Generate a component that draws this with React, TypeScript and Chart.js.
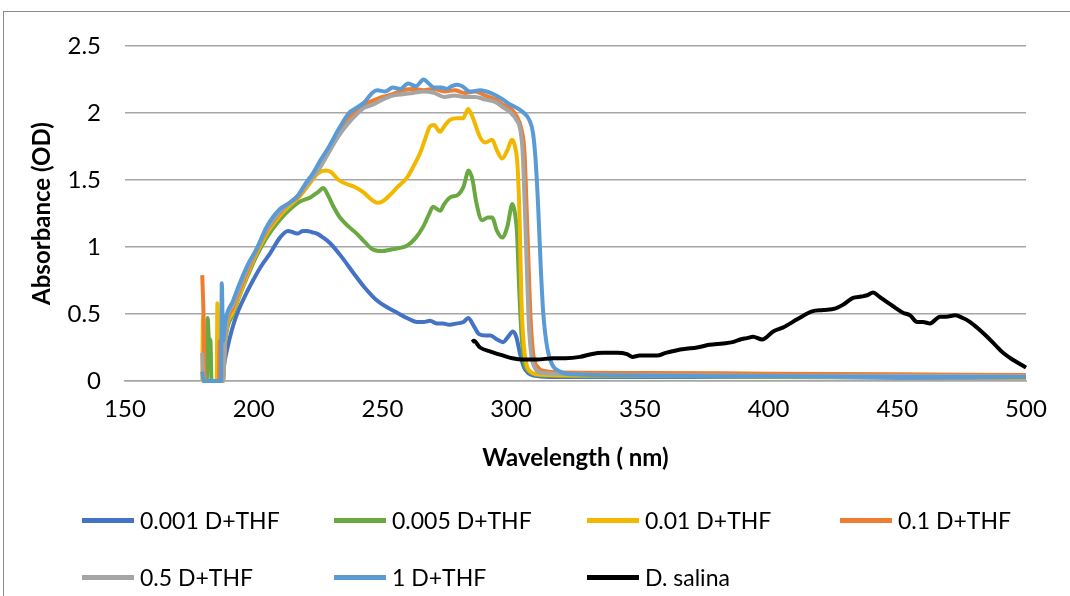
import React, { useEffect, useRef } from "react";
import { Chart, registerables } from "chart.js";

Chart.register(...registerables);

const FONT = "Lato, 'Open Sans', sans-serif";

// Series names and colours
const seriesNames = ["0.001 D+THF", "0.005 D+THF", "0.01 D+THF", "0.1 D+THF", "0.5 D+THF", "1 D+THF", "D. salina"];
const seriesColors = ["#4472C4", "#6AA842", "#F2B800", "#ED7D31", "#A5A5A5", "#5B9BD5", "#000000"];

// Axis ticks
const xTicks = [150, 200, 250, 300, 350, 400, 450, 500];
const yTicks = [0, 0.5, 1, 1.5, 2, 2.5];

// [wavelength nm, absorbance OD]
const s0001: [number, number][] = [
  [180, 0.07], [180.6, 0.05], [181, 0], [187.8, 0], [188.5, 0.12], [189.6, 0.23], [191.5, 0.38], [193.5, 0.5],
  [196.5, 0.63], [199.7, 0.75], [203, 0.86], [206.3, 0.95], [210.2, 1.07], [213.3, 1.12], [215.2, 1.11],
  [217.2, 1.1], [219, 1.12], [220.7, 1.12], [222.6, 1.11], [224.6, 1.1], [227, 1.07], [229.6, 1.03],
  [234, 0.93], [238.6, 0.81], [243, 0.7], [247.9, 0.6], [251.8, 0.55], [255.7, 0.51], [259.5, 0.47],
  [263.4, 0.44], [266, 0.44], [268.5, 0.45], [271, 0.43], [273.5, 0.43], [276, 0.42], [279, 0.43],
  [281.5, 0.44], [283.3, 0.47], [285.5, 0.41], [287.5, 0.35], [290, 0.34], [292, 0.34], [294.5, 0.31],
  [296.9, 0.29], [298.8, 0.33], [300.7, 0.37], [302, 0.33], [303.5, 0.2], [305, 0.1], [306.6, 0.06],
  [309, 0.04], [315, 0.03], [350, 0.03], [400, 0.03], [450, 0.025], [500, 0.025],
];

const s0005: [number, number][] = [
  [180, 0], [181.8, 0], [182.1, 0.47], [182.6, 0.32], [183.2, 0.3], [183.6, 0], [188, 0], [189, 0.3],
  [192, 0.5], [195, 0.66], [198, 0.8], [201, 0.93], [205, 1.07], [210, 1.2], [214, 1.28], [218, 1.34],
  [222, 1.37], [225, 1.41], [227, 1.44], [229, 1.38], [231, 1.3], [233.5, 1.22], [237, 1.15], [240, 1.1],
  [243, 1.04], [246.4, 0.98], [250, 0.97], [253, 0.98], [256, 0.99], [259.6, 1.01], [263, 1.07],
  [265.8, 1.15], [268, 1.24], [269.7, 1.3], [272.4, 1.27], [274, 1.32], [276.3, 1.37], [279.4, 1.39],
  [281.5, 1.45], [283.5, 1.57], [285, 1.5], [286.5, 1.33], [288.7, 1.2], [291, 1.22], [292.6, 1.22],
  [294.5, 1.12], [296.5, 1.07], [298.5, 1.15], [300.5, 1.32], [301.5, 1.25], [302.3, 1.1], [303.1, 0.7],
  [304, 0.35], [305, 0.15], [306.5, 0.08], [309, 0.05], [315, 0.04], [350, 0.035], [400, 0.03],
  [450, 0.03], [500, 0.03],
];

const s001: [number, number][] = [
  [180, 0], [180.3, 0.48], [180.8, 0], [185.6, 0], [185.9, 0.58], [186.3, 0], [188, 0], [189, 0.32],
  [192, 0.52], [195, 0.67], [198, 0.82], [201, 0.95], [205, 1.1], [210, 1.23], [214, 1.31], [218, 1.38],
  [222, 1.48], [225, 1.55], [228, 1.57], [230, 1.56], [233, 1.5], [236, 1.47], [239, 1.45], [242.5, 1.41],
  [246, 1.35], [248, 1.33], [250, 1.34], [253, 1.39], [256, 1.45], [259.6, 1.52], [262, 1.6], [264.6, 1.7],
  [266.5, 1.8], [268.5, 1.9], [270, 1.91], [272.4, 1.86], [274, 1.9], [276.3, 1.95], [279, 1.96],
  [281.3, 1.96], [283.3, 2.03], [285, 1.97], [287.9, 1.82], [290, 1.78], [292.6, 1.8], [294.5, 1.72],
  [296.5, 1.66], [298.5, 1.72], [300.3, 1.8], [301.5, 1.75], [302.5, 1.6], [303.3, 1.2], [304, 0.6],
  [305, 0.25], [306, 0.12], [307.5, 0.07], [310, 0.05], [315, 0.045], [350, 0.04], [400, 0.035],
  [450, 0.03], [500, 0.025],
];

const s01: [number, number][] = [
  [180, 0.79], [180.5, 0.5], [181, 0], [186.5, 0], [186.8, 0.3], [187.1, 0], [188, 0], [189, 0.35],
  [192, 0.55], [195, 0.7], [198, 0.84], [201, 0.97], [205, 1.12], [210, 1.25], [214, 1.33], [217, 1.37],
  [220, 1.45], [223, 1.53], [226, 1.62], [229, 1.72], [233, 1.85], [237, 1.96], [240, 2.02], [243, 2.06],
  [246, 2.09], [250, 2.12], [254, 2.14], [258, 2.17], [262, 2.18], [266, 2.17], [270, 2.18], [274, 2.16],
  [278, 2.17], [282, 2.15], [286, 2.16], [290, 2.13], [294, 2.1], [297, 2.06], [300, 2.03], [302, 1.98],
  [304, 1.88], [305.2, 1.7], [306, 1.3], [306.8, 0.85], [307.6, 0.45], [308.6, 0.2], [310.5, 0.1],
  [313, 0.075], [318, 0.065], [350, 0.06], [400, 0.055], [450, 0.05], [500, 0.045],
];

const s05: [number, number][] = [
  [180, 0.21], [180.6, 0], [188, 0], [189, 0.37], [192, 0.57], [195, 0.72], [198, 0.86], [201, 0.98],
  [205, 1.13], [210, 1.26], [214, 1.33], [217, 1.38], [220, 1.45], [223, 1.52], [226, 1.6], [229, 1.7],
  [233, 1.83], [237, 1.93], [240, 1.99], [243, 2.04], [246, 2.06], [250, 2.1], [254, 2.13], [258, 2.14],
  [262, 2.15], [266, 2.16], [270, 2.15], [274, 2.12], [278, 2.13], [282, 2.12], [286, 2.12], [290, 2.1],
  [294, 2.08], [297, 2.04], [300, 2.0], [302, 1.95], [303.5, 1.88], [304.5, 1.7], [305.3, 1.3],
  [306, 0.9], [306.8, 0.45], [307.8, 0.2], [309.5, 0.09], [312, 0.06], [350, 0.045], [400, 0.04],
  [450, 0.04], [500, 0.035],
];

const s1: [number, number][] = [
  [180, 0.07], [180.6, 0], [187.3, 0], [187.6, 0.73], [188.1, 0.3], [189, 0.45], [192, 0.6], [195, 0.75],
  [198, 0.88], [201, 0.98], [205, 1.15], [210, 1.28], [214, 1.33], [217, 1.38], [220, 1.47], [223, 1.55],
  [226, 1.65], [229, 1.74], [233, 1.88], [237, 2.0], [240, 2.04], [243, 2.08], [246, 2.15], [248, 2.17],
  [251, 2.16], [254, 2.19], [257, 2.18], [260, 2.22], [263, 2.2], [266, 2.25], [268, 2.22], [270, 2.19],
  [273, 2.19], [275, 2.18], [277, 2.2], [279, 2.21], [281, 2.2], [284, 2.16], [288, 2.17], [292, 2.15],
  [296, 2.11], [299, 2.07], [302, 2.04], [305, 2.0], [307, 1.95], [308.5, 1.85], [309.5, 1.65],
  [310.5, 1.3], [311.5, 0.85], [312.5, 0.5], [314, 0.25], [316, 0.12], [319, 0.07], [325, 0.05],
  [350, 0.04], [400, 0.035], [450, 0.03], [500, 0.03],
];

const sSalina: [number, number][] = [
  [284.8, 0.29], [285.5, 0.3], [287.9, 0.25], [292, 0.22], [296.9, 0.19], [300.5, 0.17], [304.6, 0.16],
  [310, 0.16], [316.3, 0.17], [321, 0.17], [326.8, 0.18], [331, 0.2], [335.7, 0.21], [341, 0.21],
  [345, 0.2], [347, 0.18], [350, 0.19], [353, 0.19], [356.7, 0.19], [360, 0.21], [364.5, 0.23],
  [368, 0.24], [372.2, 0.25], [377, 0.27], [382.3, 0.28], [386, 0.29], [389, 0.31], [391.6, 0.32],
  [394, 0.33], [397.5, 0.31], [401.8, 0.37], [405.7, 0.4], [411.1, 0.46], [416.9, 0.52], [421.2, 0.53],
  [425.8, 0.54], [429, 0.57], [432.8, 0.62], [436, 0.63], [438.3, 0.64], [440.6, 0.66], [443, 0.63],
  [445.9, 0.59], [449, 0.55], [452.2, 0.51], [455, 0.49], [457.7, 0.44], [460, 0.44], [462.7, 0.43],
  [466.6, 0.48], [469, 0.48], [472.5, 0.49], [475.5, 0.47], [478.3, 0.44], [481.5, 0.39], [484.9, 0.33],
  [488, 0.27], [491.1, 0.21], [494, 0.17], [496.5, 0.14], [500, 0.1],
];

const allSeries = [s0001, s0005, s001, s01, s05, s1, sSalina];

export default function App() {
  const ref = useRef<HTMLCanvasElement | null>(null);

  useEffect(() => {
    if (!ref.current) return;
    const n = allSeries.length;
    const chart = new Chart(ref.current, {
      type: "line",
      data: {
        datasets: allSeries.map((s, i) => ({
          label: seriesNames[i],
          data: s.map(([x, y]) => ({ x, y })),
          borderColor: seriesColors[i],
          backgroundColor: seriesColors[i],
          borderWidth: 4,
          pointRadius: 0,
          cubicInterpolationMode: "monotone" as const,
          fill: false,
          clip: false as any,
          order: n - i,
        })),
      },
      options: {
        animation: false,
        responsive: false,
        devicePixelRatio: 1,
        layout: { padding: { left: 28, top: 46, right: 44, bottom: 123 } },
        plugins: { legend: { display: false }, tooltip: { enabled: false } },
        scales: {
          x: {
            type: "linear",
            min: 150,
            max: 500,
            afterBuildTicks: (s: any) => {
              s.ticks = xTicks.map((v) => ({ value: v }));
            },
            afterFit: (s: any) => {
              s.height = 92;
            },
            grid: { display: false, drawTicks: false },
            border: { display: true, color: "#a6a6a6", width: 1.5 },
            ticks: {
              color: "#000",
              font: { family: FONT, size: 24 },
              padding: 14,
              maxRotation: 0,
              callback: (v: any) => String(v),
            },
            title: {
              display: true,
              text: "Wavelength ( nm)",
              color: "#000",
              font: { family: FONT, size: 24, weight: "bold" },
              padding: 0,
            },
          },
          y: {
            type: "linear",
            min: 0,
            max: 2.5,
            afterBuildTicks: (s: any) => {
              s.ticks = yTicks.map((v) => ({ value: v }));
            },
            afterFit: (s: any) => {
              s.width = 97;
            },
            grid: { color: "#a6a6a6", lineWidth: 1.5, drawTicks: false },
            border: { display: false },
            ticks: {
              color: "#000",
              font: { family: FONT, size: 24 },
              padding: 24,
              callback: (v: any) => String(v),
            },
            title: {
              display: true,
              text: "Absorbance (OD)",
              color: "#000",
              font: { family: FONT, size: 24, weight: "bold" },
              padding: 0,
            },
          },
        },
      },
    });
    return () => chart.destroy();
  }, []);

  const colLeft = [82, 334, 587, 840];
  const rowTop = [520, 577];

  return (
    <div style={{ position: "fixed", left: 0, top: 0, width: 1070, height: 596, background: "#fff", overflow: "hidden" }}>
      <div
        style={{
          position: "absolute",
          left: 3,
          top: 11,
          width: 1200,
          height: 800,
          borderTop: "1px solid #8a8a8a",
          borderLeft: "1px solid #8a8a8a",
        }}
      />
      <canvas ref={ref} width={1070} height={596} style={{ position: "absolute", left: 0, top: 0 }} />
      {seriesNames.map((name, i) => (
        <div
          key={name}
          style={{
            position: "absolute",
            left: colLeft[i % 4],
            top: rowTop[Math.floor(i / 4)] - 16,
            height: 32,
            display: "flex",
            alignItems: "center",
            fontFamily: FONT,
            fontSize: 23,
            color: "#000",
            whiteSpace: "nowrap",
          }}
        >
          <span style={{ display: "inline-block", width: 52, height: 5, background: seriesColors[i], marginRight: 6 }} />
          <span>{name}</span>
        </div>
      ))}
    </div>
  );
}
